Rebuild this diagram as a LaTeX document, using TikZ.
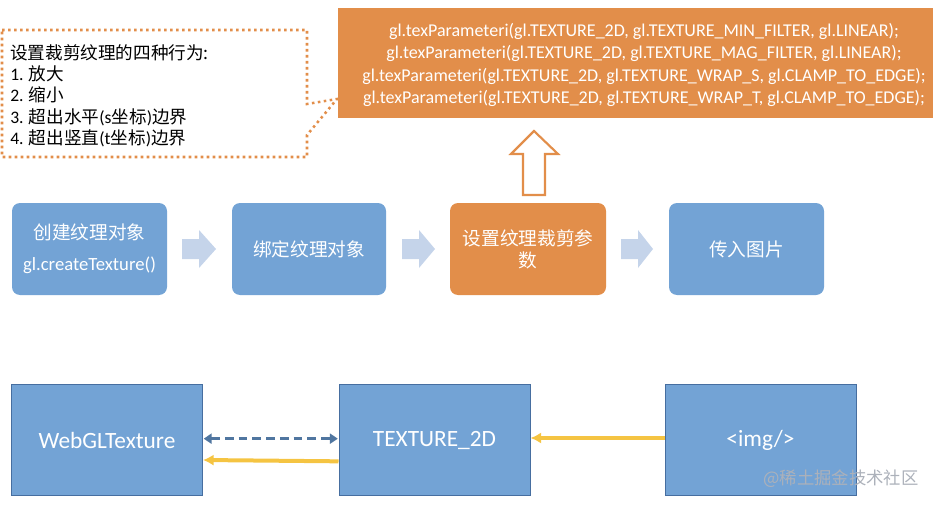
\documentclass[tikz,border=0pt]{standalone}
\usepackage{fontspec}
\setmainfont{Carlito}
\newfontfamily\cjk{Noto Sans CJK SC}
\usetikzlibrary{arrows.meta}
\definecolor{boxblue}{RGB}{115,163,213}
\definecolor{boxorange}{RGB}{226,142,74}
\definecolor{chevblue}{RGB}{197,212,234}
\definecolor{dashblue}{RGB}{80,118,160}
\definecolor{arrowyellow}{RGB}{245,196,66}
\definecolor{edgeblue}{RGB}{70,110,160}
\definecolor{markgray}{RGB}{172,177,186}
\tikzset{
  flowbox/.style={rounded corners=6pt, fill=boxblue, draw=none, minimum height=92*0.75pt,
    inner sep=0pt, text=white, align=center, font=\fontsize{14}{18}\selectfont},
  objbox/.style={fill=boxblue, draw=edgeblue, line width=0.75pt, minimum width=191*0.75pt,
    minimum height=111*0.75pt, inner sep=0pt, text=white, font=\fontsize{17.5}{20}\selectfont},
  chevfill/.style={fill=chevblue, draw=none},
  dashlink/.style={draw=dashblue, line width=1.9pt, dash pattern=on 6.5pt off 3.8pt,
    {Triangle[length=6pt,width=7.5pt]}-{Triangle[length=6pt,width=7.5pt]}, shorten <=0.5pt, shorten >=0.5pt},
  yellowlink/.style={draw=arrowyellow, line width=3pt, -{Latex[length=8pt,width=8.5pt]}},
  marktext/.style={text=markgray, inner sep=0pt, font=\fontsize{13}{15}\selectfont},
}
\newcommand\chevarrow[2]{\fill[chevfill] (#1,239) -- ({#1+17},239) -- ({#1+17},230) -- (#2,249) -- ({#1+17},268) -- ({#1+17},259) -- (#1,259) -- cycle;}
\begin{document}
\begin{tikzpicture}[x=0.75pt,y=-0.75pt]
\useasboundingbox (0,0) rectangle (938,506);
% callout
\draw[boxorange, line width=1.9pt, dash pattern=on 1.9pt off 2.6pt]
  (2,30) -- (307,30) -- (307,104) -- (337,99) -- (307,135) -- (307,157) -- (2,157) -- cycle;
\node[anchor=west, align=left, inner sep=0pt, font=\fontsize{13.2}{16}\selectfont] (callout) at (10,95.5)
  {{\cjk 设置裁剪纹理的四种行为:}\\1. {\cjk 放大}\\2. {\cjk 缩小}\\3. {\cjk 超出水平}(s{\cjk 坐标}){\cjk 边界}\\4. {\cjk 超出竖直}(t{\cjk 坐标}){\cjk 边界}};
% code box
\node[fill=boxorange, minimum width=595*0.75pt, minimum height=110*0.75pt, inner sep=0pt] (code) at (635.5,63) {};
\node[text=white, align=center, inner sep=0pt, font=\fontsize{13.5}{16.6}\selectfont] (codetext) at (644,65)
  {gl.texParameteri(gl.TEXTURE\_2D, gl.TEXTURE\_MIN\_FILTER, gl.LINEAR);\\
   gl.texParameteri(gl.TEXTURE\_2D, gl.TEXTURE\_MAG\_FILTER, gl.LINEAR);\\
   gl.texParameteri(gl.TEXTURE\_2D, gl.TEXTURE\_WRAP\_S, gl.CLAMP\_TO\_EDGE);\\
   gl.texParameteri(gl.TEXTURE\_2D, gl.TEXTURE\_WRAP\_T, gl.CLAMP\_TO\_EDGE);};
% flow row
\node[flowbox, minimum width=155*0.75pt] (create) at (89.5,249)
  {{\cjk 创建纹理对象}\\[5pt]gl.createTexture()};
\node[flowbox, minimum width=154*0.75pt] (bind) at (309,249) {\cjk 绑定纹理对象};
\node[flowbox, minimum width=156*0.75pt, fill=boxorange, font=\fontsize{14}{16.5}\selectfont] (param) at (528,249)
  {\cjk 设置纹理裁剪参\\\cjk 数};
\node[flowbox, minimum width=155*0.75pt] (image) at (746.5,249) {\cjk 传入图片};
\chevarrow{182}{216}
\chevarrow{402}{435}
\chevarrow{621}{653}
% hollow up arrow
\draw[boxorange, line width=1.6pt, fill=white, line join=miter]
  (523,195) -- (523,154) -- (511,154) -- (534,131) -- (558,154) -- (545,154) -- (545,195) -- cycle;
% bottom row
\node[objbox] (webgl) at (107,440) {WebGLTexture};
\node[objbox] (tex2d) at (434.5,440) {TEXTURE\_2D};
\node[objbox] (img) at (760.5,440) {<img/>};
\draw[dashlink] ([yshift=1pt]webgl.east) -- ([yshift=1pt]tex2d.west);
\draw[yellowlink] ([yshift=-16pt]tex2d.west) -- ([yshift=-15pt]webgl.east);
\draw[yellowlink] ([yshift=1.5pt]img.west) -- ([yshift=1.5pt]tex2d.east);
% watermark
\node[marktext] (mark) at (841,479) {\cjk @稀土掘金技术社区};
\end{tikzpicture}
\end{document}
